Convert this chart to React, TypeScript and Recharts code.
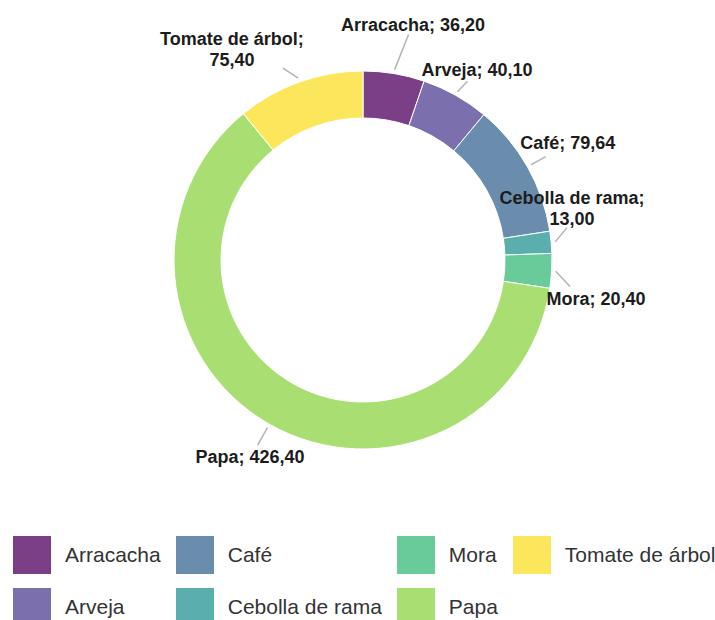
import React from "react";
import { PieChart, Pie, Cell, Legend } from "recharts";

const categories = [
  "Arracacha",
  "Arveja",
  "Café",
  "Cebolla de rama",
  "Mora",
  "Papa",
  "Tomate de árbol",
];
const values = [36.2, 40.1, 79.64, 13.0, 20.4, 426.4, 75.4];
const colors = ["#7a3f86", "#7b6fae", "#6a8cad", "#5aafac", "#6acb9a", "#a9df72", "#fce75c"];

const data = categories.map((name, i) => ({ name, value: values[i] }));

// where each label sits: line bends by `turn` degrees, reaches `extra` px past the ring,
// then the text is shifted by dx/dy from the line end
const labelLayout: Record<string, { turn: number; extra: number; dx: number; dy: number; wrap?: boolean }> = {
  Arracacha: { turn: 2, extra: 41, dx: 4.5, dy: -3.5 },
  Arveja: { turn: 1, extra: 18, dx: 9.5, dy: -5 },
  "Café": { turn: 0, extra: 21, dx: 22, dy: -7.5 },
  "Cebolla de rama": { turn: -3.6, extra: 17.5, dx: 5, dy: -23.5, wrap: true },
  Mora: { turn: 4, extra: 19.7, dx: 26, dy: 18.5 },
  Papa: { turn: 0, extra: 24, dx: -7.5, dy: 18 },
  "Tomate de árbol": { turn: -3, extra: 19, dx: -51, dy: -23, wrap: true },
};

const RAD = Math.PI / 180;
const fmt = (v: number) => v.toFixed(2).replace(".", ",");
const labelFont = "'Liberation Sans', Arial, sans-serif";

function SliceLabel(props: any) {
  const { cx, cy, midAngle, outerRadius, name } = props;
  const value = props.value ?? props.payload?.value;
  const l = labelLayout[name];
  if (!l) return null;
  const a0 = midAngle * RAD;
  const r0 = outerRadius + 4;
  const x0 = cx + r0 * Math.cos(a0);
  const y0 = cy - r0 * Math.sin(a0);
  const a1 = (midAngle - l.turn) * RAD;
  const r1 = outerRadius + l.extra;
  const x1 = cx + r1 * Math.cos(a1);
  const y1 = cy - r1 * Math.sin(a1);
  const tx = x1 + l.dx;
  const ty = y1 + l.dy;
  const lines = l.wrap ? [`${name};`, fmt(value)] : [`${name}; ${fmt(value)}`];
  return (
    <g>
      <line x1={x0} y1={y0} x2={x1} y2={y1} stroke="#b3b3b3" strokeWidth={1.5} />
      {lines.map((t, k) => (
        <text
          key={k}
          x={tx}
          y={ty + k * 21}
          textAnchor="middle"
          fill="#1c1c1c"
          fontSize={18}
          fontWeight="bold"
          fontFamily={labelFont}
        >
          {t}
        </text>
      ))}
    </g>
  );
}

function LegendBox() {
  return (
    <div
      style={{
        display: "grid",
        gridTemplateRows: "38px 38px",
        gridAutoFlow: "column",
        gridAutoColumns: "max-content",
        columnGap: 15,
        rowGap: 14,
        fontFamily: labelFont,
        fontSize: 21,
        color: "#333",
      }}
    >
      {categories.map((name, i) => (
        <div key={name} style={{ display: "flex", alignItems: "center" }}>
          <div style={{ width: 38, height: 38, background: colors[i], marginRight: 14 }} />
          <span>{name}</span>
        </div>
      ))}
    </div>
  );
}

export default function App() {
  return (
    <div style={{ position: "absolute", left: 0, top: 0, width: 715, height: 620, background: "#fff", overflow: "hidden" }}>
      <PieChart width={715} height={620} margin={{ top: 0, right: 0, bottom: 0, left: 0 }}>
        <Pie
          data={data}
          dataKey="value"
          nameKey="name"
          cx={363}
          cy={260}
          innerRadius={142}
          outerRadius={189}
          startAngle={90}
          endAngle={-270}
          stroke="#ffffff"
          strokeWidth={1}
          label={SliceLabel}
          labelLine={false}
          isAnimationActive={false}
        >
          {data.map((d, i) => (
            <Cell key={d.name} fill={colors[i]} />
          ))}
        </Pie>
        <Legend
          content={() => <LegendBox />}
          wrapperStyle={{ position: "absolute", left: 13, top: 536, width: 702 }}
        />
      </PieChart>
    </div>
  );
}
